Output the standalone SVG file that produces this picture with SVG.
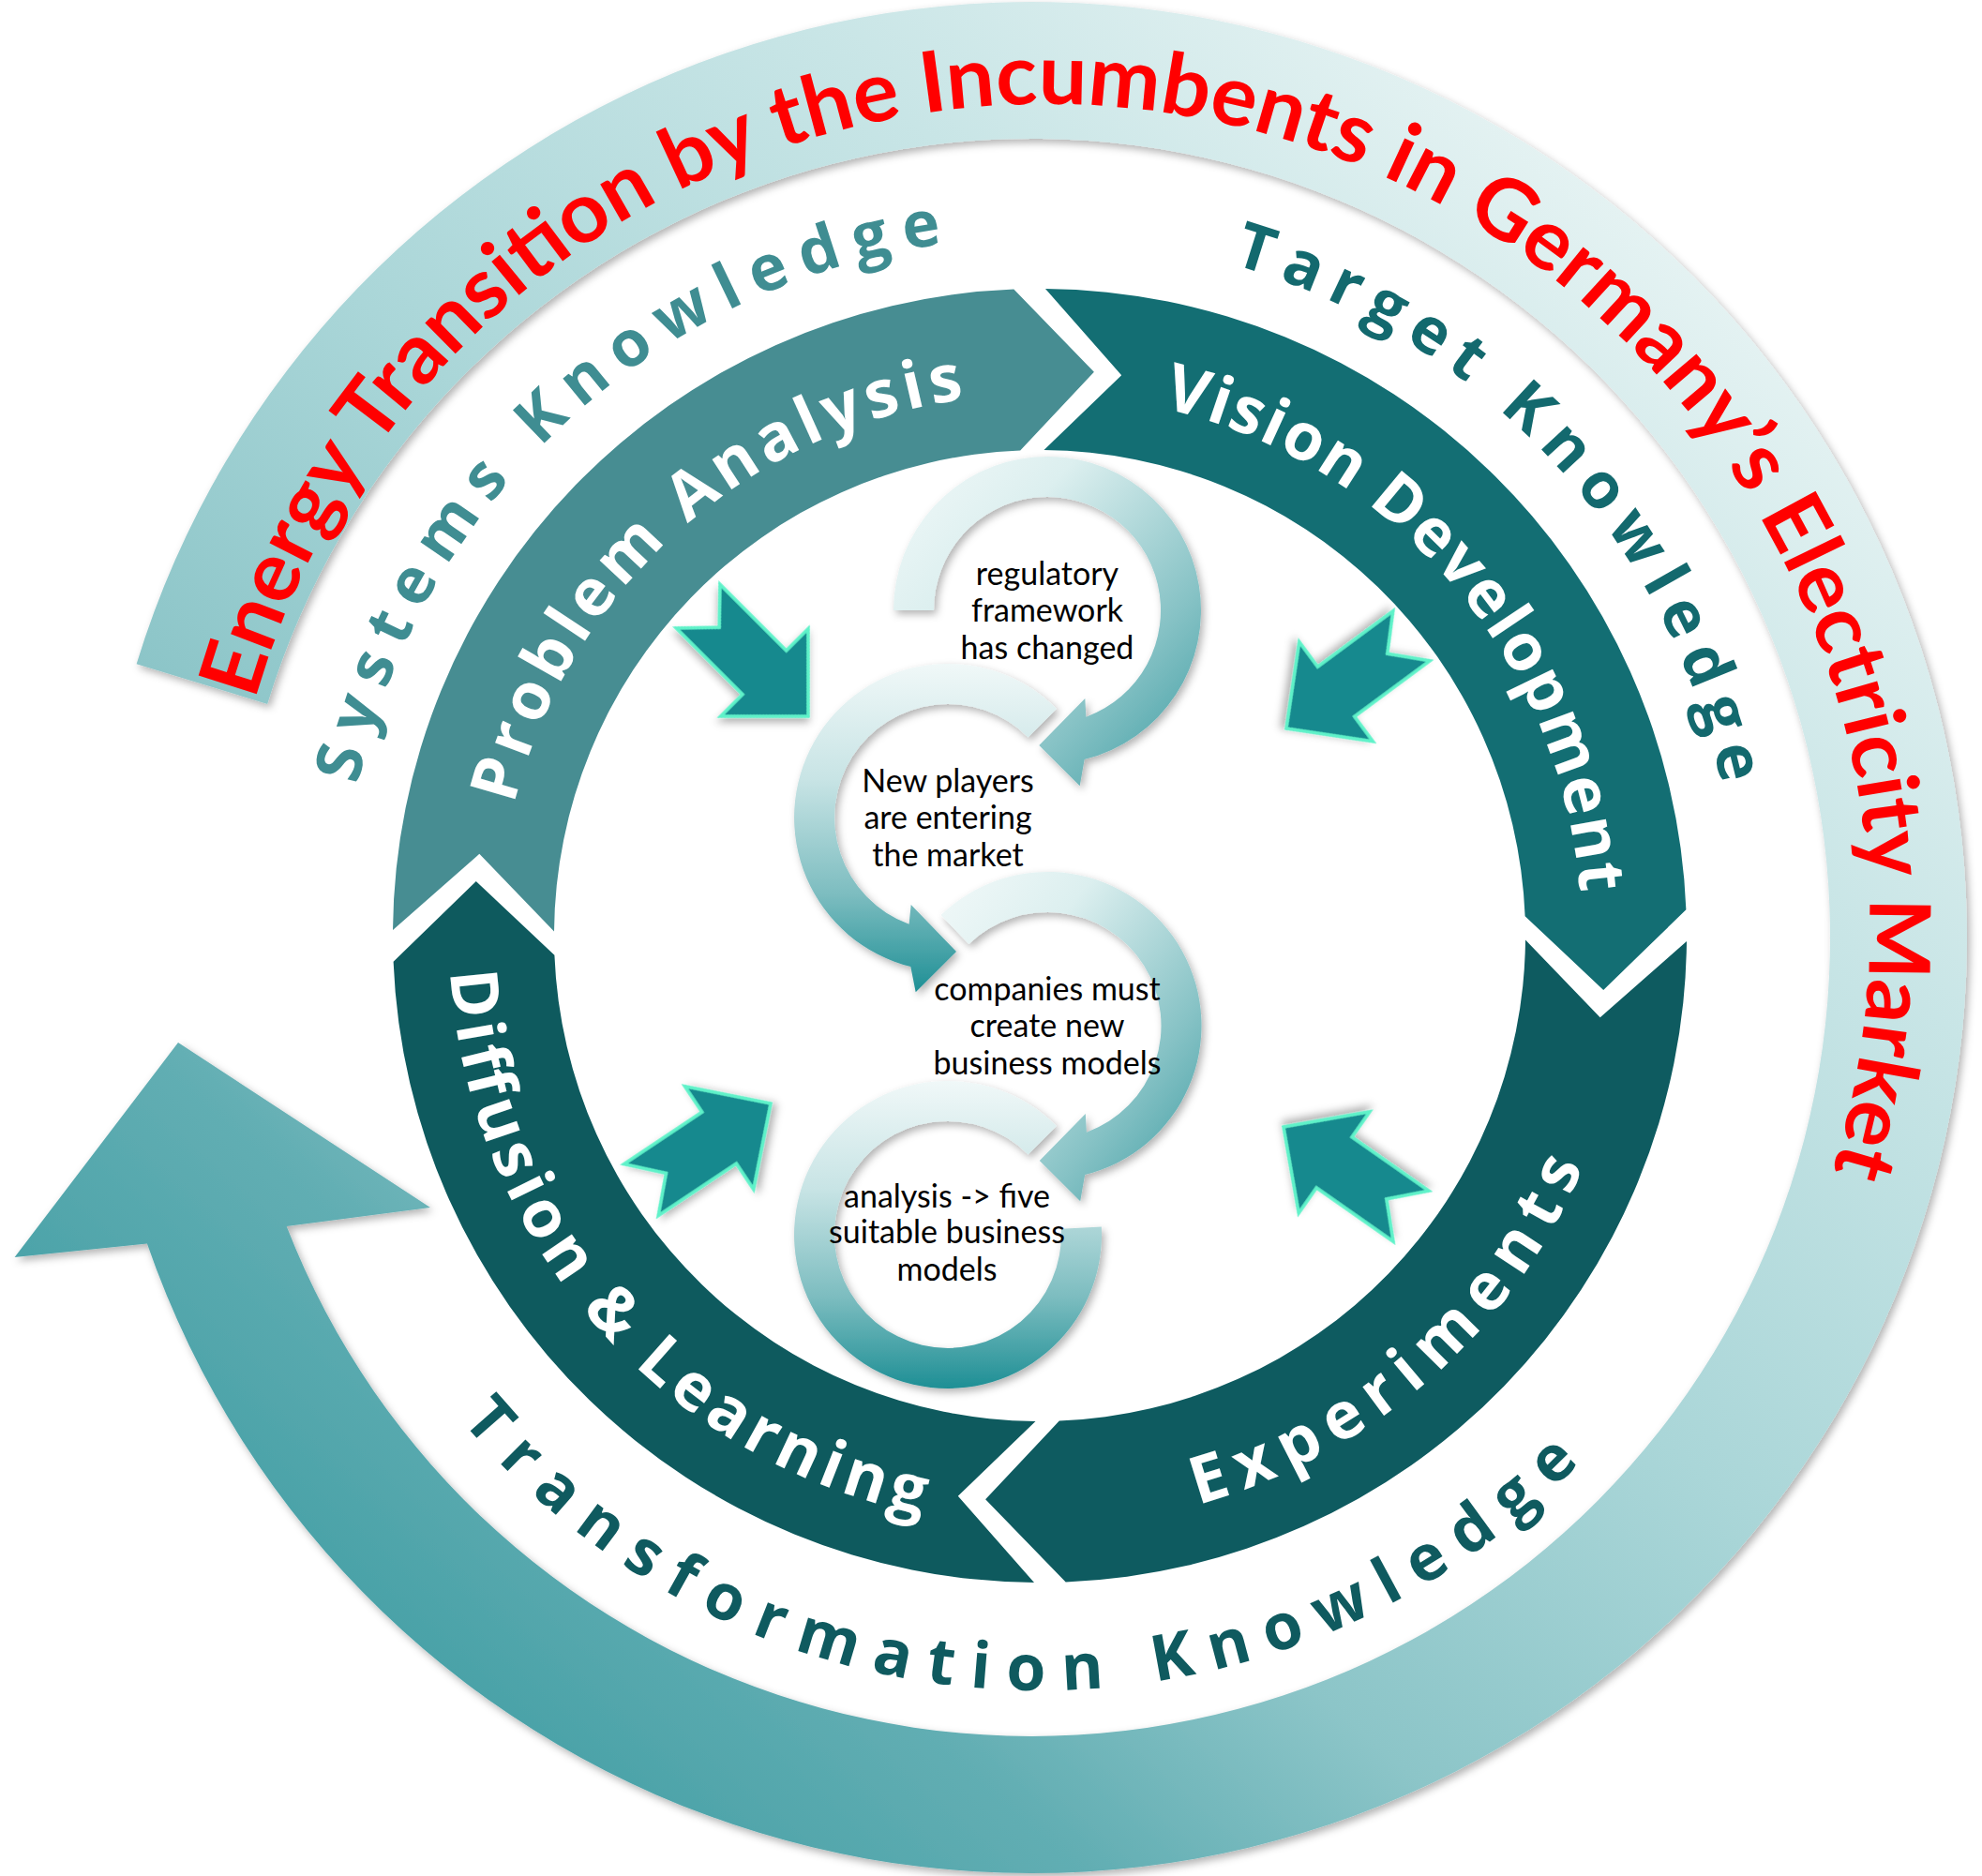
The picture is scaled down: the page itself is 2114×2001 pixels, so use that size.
<svg xmlns="http://www.w3.org/2000/svg" width="2114" height="2001" viewBox="0 0 2114 2001">
<style>
.seg{font-family:"Open Sans","Liberation Sans",sans-serif;font-weight:700;font-size:70px;fill:#ffffff}
.know{font-family:"Open Sans","Liberation Sans",sans-serif;font-weight:700;font-size:68px}
.title{font-family:Lato,"Liberation Sans",sans-serif;font-weight:700;font-size:90px;fill:#ff0000}
.inner{font-family:Lato,"Liberation Sans",sans-serif;font-size:34px;fill:#000000;text-anchor:middle}
.small{fill:#13898e;stroke:#5ff2c9;stroke-width:3.5;stroke-linejoin:miter;filter:url(#sh)}
</style>
<defs>
<linearGradient id="gBand" gradientUnits="userSpaceOnUse" x1="1700" y1="200" x2="300" y2="1800">
<stop offset="0" stop-color="#e4f2f2"/>
<stop offset="0.2" stop-color="#c8e5e6"/>
<stop offset="0.45" stop-color="#aad6d8"/>
<stop offset="0.66" stop-color="#8cc5c8"/>
<stop offset="0.8" stop-color="#62aeb3"/>
<stop offset="1" stop-color="#409da3"/>
</linearGradient>
<linearGradient id="gDiag" x1="0" y1="0" x2="1" y2="1">
<stop offset="0" stop-color="#f2f9f9"/>
<stop offset="0.3" stop-color="#dcefef"/>
<stop offset="0.7" stop-color="#86c2c5"/>
<stop offset="1" stop-color="#3b9ba1"/>
</linearGradient>
<linearGradient id="gVert" x1="0" y1="0" x2="0" y2="1">
<stop offset="0" stop-color="#f0f8f8"/>
<stop offset="0.35" stop-color="#c8e4e5"/>
<stop offset="0.7" stop-color="#7dbdc0"/>
<stop offset="1" stop-color="#1e8f95"/>
</linearGradient>
<filter id="sh" x="-20%" y="-20%" width="150%" height="150%">
<feDropShadow dx="3" dy="4" stdDeviation="4" flood-color="#000000" flood-opacity="0.3"/>
</filter>
<path id="arrow" d="M0,0 L-66,-66 L-66,-33 L-166,-33 L-134,0 L-166,33 L-66,33 L-66,66 Z"/>
<path id="tpPA" d="M539.8,897.6 A578,578 0 0 1 1068.7,421.4"/>
<path id="tpVD" d="M1199.4,427.1 A578,578 0 0 1 1687.0,993.0"/>
<path id="tpEX" d="M1229.2,1616.4 A630,630 0 0 0 1706.4,1197.9"/>
<path id="tpDL" d="M479.1,987.0 A630,630 0 0 0 1032.2,1623.3"/>
<path id="tpSK" d="M371.2,894.3 A745,745 0 0 1 1063.5,254.4"/>
<path id="tpTK" d="M1263.9,269.3 A745,745 0 0 1 1845.8,887.9"/>
<path id="tpXK" d="M449.6,1459.7 A805,805 0 0 0 1731.9,1507.9"/>
<path id="tpTitle" d="M254.1,821.5 A878,878 0 1 1 1928.9,1320.7"/>
</defs>
<rect width="2114" height="2001" fill="#ffffff"/>

<g id="outer-band">
<path d="M145.6,708.2 A998,998 0 1 1 156.9,1326.6 L15.6,1341 L190,1112 L459,1288 L305.7,1308.1 A852,852 0 1 0 285.2,750.9 Z" fill="url(#gBand)" filter="url(#sh)"/>
<text class="title"><textPath href="#tpTitle" startOffset="50%" text-anchor="middle" textLength="2777" lengthAdjust="spacingAndGlyphs">Energy Transition by the Incumbents in Germany’s Electricity Market</textPath></text>
</g>

<g id="knowledge-labels">
<text class="know" fill="#3f8d92"><textPath href="#tpSK" startOffset="50%" text-anchor="middle" textLength="904" lengthAdjust="spacing">Systems Knowledge</textPath></text>
<text class="know" fill="#13696e"><textPath href="#tpTK" startOffset="50%" text-anchor="middle" textLength="800" lengthAdjust="spacing">Target Knowledge</textPath></text>
<text class="know" fill="#0f5a5f"><textPath href="#tpXK" startOffset="50%" text-anchor="middle" textLength="1345" lengthAdjust="spacing">Transformation Knowledge</textPath></text>
</g>

<g id="seg-problem-analysis">
<path d="M419.0,992.0 A690,690 0 0 1 1081.3,308.6 L1166.9,396.8 L1088.2,480.4 A518,518 0 0 0 591.0,993.5 L511.3,910.8 Z" fill="#478d92"/>
<text class="seg"><textPath href="#tpPA" startOffset="50%" text-anchor="middle" textLength="686" lengthAdjust="spacing">Problem Analysis</textPath></text>
</g>
<g id="seg-vision-development">
<path d="M1115.0,308.0 A690,690 0 0 1 1798.4,970.3 L1710.2,1055.9 L1626.6,977.2 A518,518 0 0 0 1113.5,480.0 L1196.2,400.3 Z" fill="#136e73"/>
<text class="seg"><textPath href="#tpVD" startOffset="50%" text-anchor="middle" textLength="731" lengthAdjust="spacing">Vision Development</textPath></text>
</g>
<g id="seg-experiments">
<path d="M1799.0,1004.0 A690,690 0 0 1 1136.7,1687.4 L1051.1,1599.2 L1129.8,1515.6 A518,518 0 0 0 1627.0,1002.5 L1706.7,1085.2 Z" fill="#0e5b60"/>
<text class="seg"><textPath href="#tpEX" startOffset="50%" text-anchor="middle" textLength="566" lengthAdjust="spacing">Experiments</textPath></text>
</g>
<g id="seg-diffusion-learning">
<path d="M1103.0,1688.0 A690,690 0 0 1 419.6,1025.7 L507.8,940.1 L591.4,1018.8 A518,518 0 0 0 1104.5,1516.0 L1021.8,1595.7 Z" fill="#0e5a5e"/>
<text class="seg"><textPath href="#tpDL" startOffset="50%" text-anchor="middle" textLength="825" lengthAdjust="spacing">Diffusion &amp; Learning</textPath></text>
</g>

<g id="connectors">
<use href="#arrow" class="small" transform="translate(862,764) rotate(45)"/>
<use href="#arrow" class="small" transform="translate(1372,777) rotate(143.5)"/>
<use href="#arrow" class="small" transform="translate(822,1177) rotate(-33.7)"/>
<use href="#arrow" class="small" transform="translate(1369,1202) rotate(-145)"/>
</g>

<g id="cycle-4">
<path d="M1127,1201 A164,164 0 1 0 1174.8,1308.4 L1131.8,1310.7 A121,121 0 1 1 1096.6,1231.4 Z" fill="url(#gVert)" filter="url(#sh)"/>
<text class="inner"><tspan x="1010" y="1288">analysis -&gt; five</tspan><tspan x="1010" y="1326">suitable business</tspan><tspan x="1010" y="1366">models</tspan></text>
</g>
<g id="cycle-3">
<path d="M1003.6,976.0 A164,164 0 1 1 1157.2,1253.1 L1152.2,1281.3 L1108.8,1238 L1157.8,1188 L1158.9,1207.7 A121,121 0 1 0 1033.4,1007.0 Z" fill="url(#gDiag)" filter="url(#sh)"/>
<text class="inner"><tspan x="1117" y="1067">companies must</tspan><tspan x="1117" y="1106">create new</tspan><tspan x="1117" y="1146">business models</tspan></text>
</g>
<g id="cycle-2">
<path d="M1127,756 A164,164 0 1 0 971.3,1031.1 L976.7,1058.3 L1020,1015 L971.7,965 L969.6,985.7 A121,121 0 1 1 1096.6,786.4 Z" fill="url(#gVert)" filter="url(#sh)"/>
<text class="inner"><tspan x="1011" y="845">New players</tspan><tspan x="1011" y="884">are entering</tspan><tspan x="1011" y="924">the market</tspan></text>
</g>
<g id="cycle-1">
<path d="M953,651 A164,164 0 1 1 1156.7,810.1 L1151.7,838.3 L1108.3,795 L1157.3,745 L1158.4,764.7 A121,121 0 1 0 996,651 Z" fill="url(#gDiag)" filter="url(#sh)"/>
<text class="inner"><tspan x="1117" y="624">regulatory</tspan><tspan x="1117" y="663">framework</tspan><tspan x="1117" y="703">has changed</tspan></text>
</g>
</svg>
